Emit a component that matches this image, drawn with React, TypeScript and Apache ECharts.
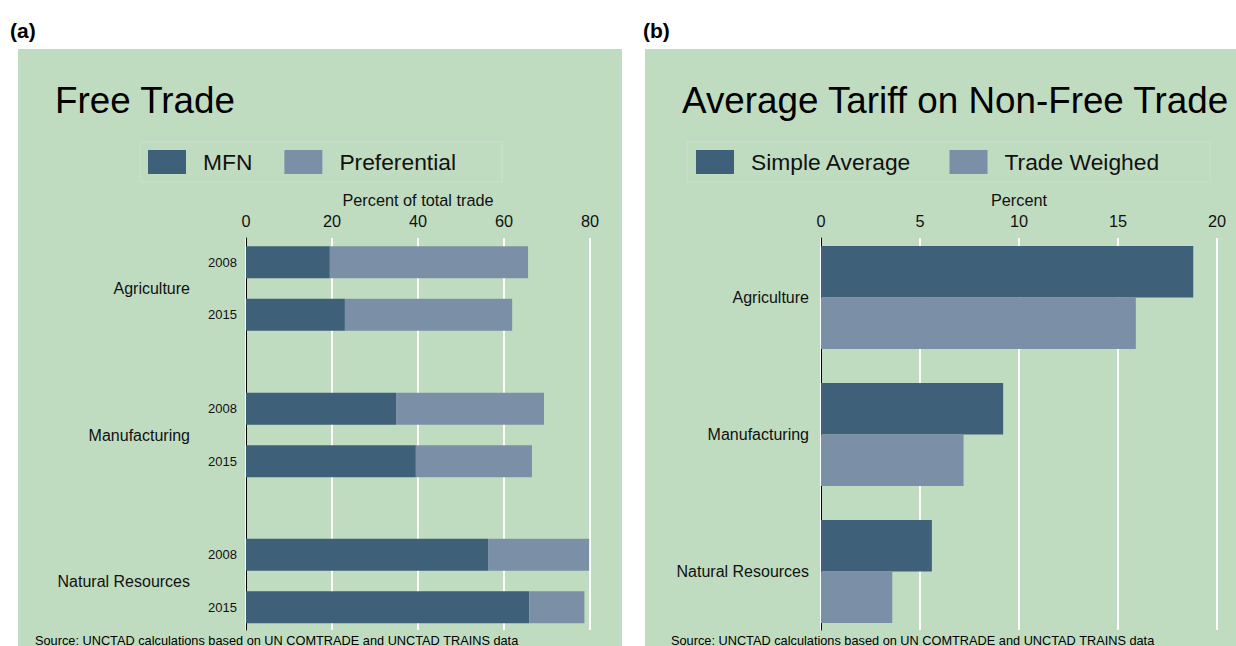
import React, { useEffect, useRef } from 'react';
import * as echarts from 'echarts';

// ---- data ----
const groups = ['Agriculture', 'Manufacturing', 'Natural Resources'];
const years = ['2008', '2015'];
// Panel (a): percent of total trade, per group: [2008, 2015]
const mfnAgriculture = [19.5, 23.0];
const mfnManufacturing = [34.9, 39.5];
const mfnNaturalResources = [56.3, 65.9];
const prefAgriculture = [46.1, 38.9];
const prefManufacturing = [34.4, 27.0];
const prefNaturalResources = [23.5, 12.8];
const mfn = [mfnAgriculture, mfnManufacturing, mfnNaturalResources];
const preferential = [prefAgriculture, prefManufacturing, prefNaturalResources];
// Panel (b): average tariff (percent), per group
const simpleAverage = [18.8, 9.2, 5.6];
const tradeWeighed = [15.9, 7.2, 3.6];
// ticks
const ticksA = [0, 20, 40, 60, 80];
const ticksB = [0, 5, 10, 15, 20];

const FONT = '"Liberation Sans", Arial, Helvetica, sans-serif';
const DARK = '#3e6179';
const LIGHT = '#7b8fa7';
const BG = '#c0dcc0';

export default function App() {
  const ref = useRef<HTMLDivElement>(null);
  useEffect(() => {
    if (!ref.current) return;
    const chart = echarts.init(ref.current, undefined, { renderer: 'svg' });

    const aLeft = 246, aWidth = 344;
    const bLeft = 821, bWidth = 396;
    const aBarGrids = [
      { top: 236, height: 105 },
      { top: 382.5, height: 105 },
      { top: 528.5, height: 105 },
    ];

    const grids: any[] = [
      { left: aLeft, width: aWidth, top: 238, height: 392 },
      ...aBarGrids.map((g) => ({ left: aLeft, width: aWidth, top: g.top, height: g.height })),
      { left: bLeft, width: bWidth, top: 238, height: 392 },
      { left: bLeft, width: bWidth, top: 229, height: 411 },
    ];

    const axisA = { min: ticksA[0], max: ticksA[ticksA.length - 1], interval: ticksA[1] - ticksA[0] };
    const axisB = { min: ticksB[0], max: ticksB[ticksB.length - 1], interval: ticksB[1] - ticksB[0] };

    const visibleX = (gridIndex: number, rng: any, name: string) => ({
      type: 'value',
      gridIndex,
      position: 'top',
      ...rng,
      name,
      nameLocation: 'middle',
      nameGap: 28,
      nameTextStyle: { fontSize: 16.3, color: '#111', fontFamily: FONT },
      axisLine: { show: false },
      axisTick: { show: false },
      axisLabel: { fontSize: 16.3, color: '#111', margin: 9, fontFamily: FONT },
      splitLine: { show: true, lineStyle: { color: '#ffffff', width: 2 } },
    });
    const hiddenX = (gridIndex: number, rng: any) => ({
      type: 'value',
      gridIndex,
      ...rng,
      show: false,
      splitLine: { show: false },
    });

    const xAxis: any[] = [
      visibleX(0, axisA, 'Percent of total trade'),
      hiddenX(1, axisA),
      hiddenX(2, axisA),
      hiddenX(3, axisA),
      visibleX(4, axisB, 'Percent'),
      hiddenX(5, axisB),
    ];

    const lineY = (gridIndex: number) => ({
      type: 'value',
      gridIndex,
      min: 0,
      max: 1,
      axisLine: { show: true, lineStyle: { color: '#000', width: 1 } },
      axisTick: { show: false },
      axisLabel: { show: false },
      splitLine: { show: false },
    });

    const yAxis: any[] = [lineY(0)];
    // year axes for panel (a): indices 1..3
    groups.forEach((_, i) => {
      yAxis.push({
        type: 'category',
        gridIndex: i + 1,
        data: years,
        inverse: true,
        position: 'left',
        axisLine: { show: false },
        axisTick: { show: false },
        axisLabel: { fontSize: 13, color: '#111', margin: 9, fontFamily: FONT },
      });
    });
    // group name axes for panel (a): indices 4..6
    groups.forEach((g, i) => {
      yAxis.push({
        type: 'category',
        gridIndex: i + 1,
        data: [g],
        position: 'left',
        axisLine: { show: false },
        axisTick: { show: false },
        axisLabel: { fontSize: 16, color: '#111', margin: 56, fontFamily: FONT },
      });
    });
    // panel (b)
    yAxis.push(lineY(4)); // index 7
    yAxis.push({
      type: 'category',
      gridIndex: 5,
      data: groups,
      inverse: true,
      position: 'left',
      axisLine: { show: false },
      axisTick: { show: false },
      axisLabel: { fontSize: 16, color: '#111', margin: 12, fontFamily: FONT },
    }); // index 8

    const series: any[] = [];
    groups.forEach((_, i) => {
      series.push({
        name: 'MFN',
        type: 'bar',
        xAxisIndex: i + 1,
        yAxisIndex: i + 1,
        stack: 'a' + i,
        barWidth: 32,
        itemStyle: { color: DARK },
        data: mfn[i],
      });
      series.push({
        name: 'Preferential',
        type: 'bar',
        xAxisIndex: i + 1,
        yAxisIndex: i + 1,
        stack: 'a' + i,
        barWidth: 32,
        itemStyle: { color: LIGHT },
        data: preferential[i],
      });
    });
    series.push({
      name: 'Simple Average',
      type: 'bar',
      xAxisIndex: 5,
      yAxisIndex: 8,
      barWidth: 51.5,
      barGap: '0%',
      itemStyle: { color: DARK },
      data: simpleAverage,
    });
    series.push({
      name: 'Trade Weighed',
      type: 'bar',
      xAxisIndex: 5,
      yAxisIndex: 8,
      barWidth: 51.5,
      barGap: '0%',
      itemStyle: { color: LIGHT },
      data: tradeWeighed,
    });

    const legendCommon = {
      orient: 'horizontal',
      top: 142,
      itemWidth: 38,
      itemHeight: 24,
      icon: 'rect',
      borderColor: '#cdddd3',
      borderWidth: 1,
      selectedMode: false,
      textStyle: { fontSize: 22.8, color: '#111', fontFamily: FONT, padding: [0, 0, 0, 12] },
    };

    const text = (x: number, y: number, t: string, fontSize: number, extra: any = {}) => ({
      type: 'text',
      x,
      y,
      z: 10,
      style: {
        text: t,
        fontSize,
        fontFamily: FONT,
        fill: '#000',
        verticalAlign: 'middle',
        align: 'left',
        ...extra,
      },
    });

    const option: any = {
      animation: false,
      textStyle: { fontFamily: FONT },
      grid: grids,
      xAxis,
      yAxis,
      series,
      legend: [
        { ...legendCommon, left: 140, itemGap: 32, padding: [8, 46, 8, 8], data: ['MFN', 'Preferential'] },
        { ...legendCommon, left: 687, itemGap: 38, padding: [8, 51, 8, 9], data: ['Simple Average', 'Trade Weighed'] },
      ],
      graphic: [
        { type: 'rect', z: -10, silent: true, shape: { x: 18, y: 49, width: 604, height: 597 }, style: { fill: BG } },
        { type: 'rect', z: -10, silent: true, shape: { x: 645, y: 49, width: 591, height: 597 }, style: { fill: BG } },
        text(10, 30, '(a)', 21, { fontWeight: 'bold' }),
        text(643, 30, '(b)', 21, { fontWeight: 'bold' }),
        text(55, 100, 'Free Trade', 36.8),
        text(682, 100, 'Average Tariff on Non-Free Trade', 36.8),
        text(35, 640, 'Source: UNCTAD calculations based on UN COMTRADE and UNCTAD TRAINS data', 12.75),
        text(671, 640, 'Source: UNCTAD calculations based on UN COMTRADE and UNCTAD TRAINS data', 12.75),
      ],
    };

    chart.setOption(option);
    return () => chart.dispose();
  }, []);

  return (
    <div
      ref={ref}
      style={{ position: 'absolute', left: 0, top: 0, width: 1236, height: 646, background: '#fff' }}
    />
  );
}
